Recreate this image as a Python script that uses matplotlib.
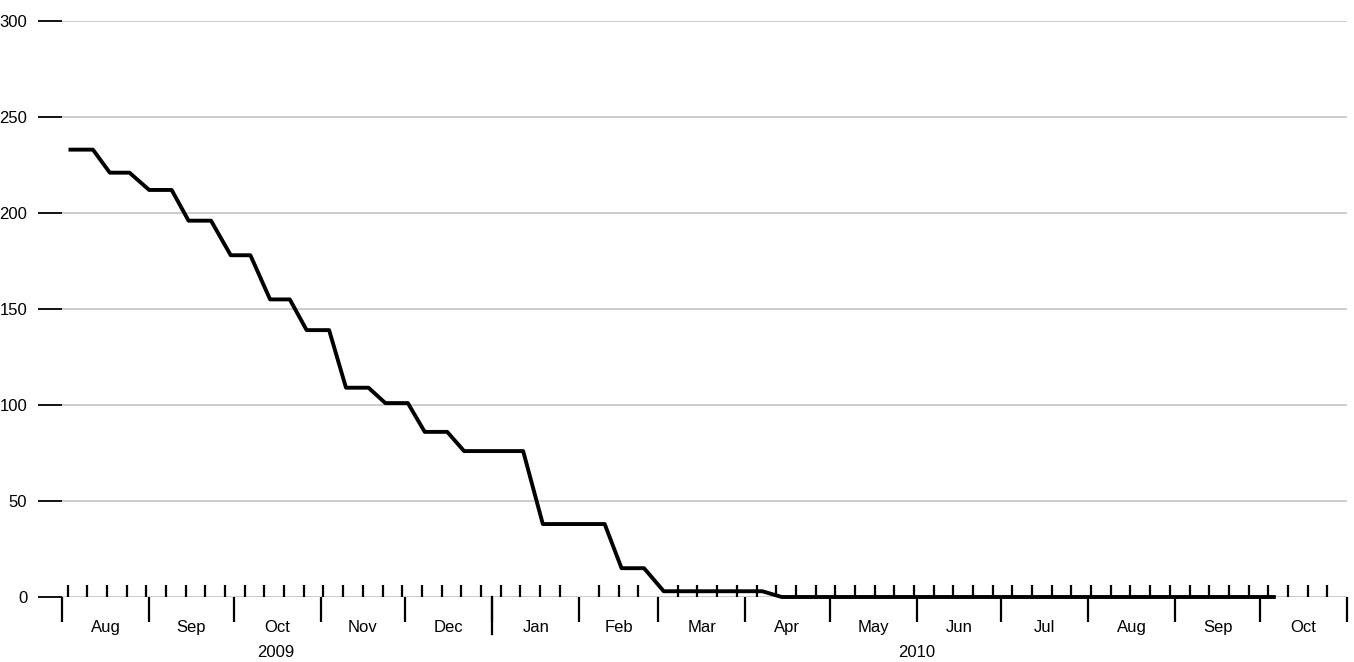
import matplotlib
matplotlib.use("Agg")
import matplotlib.pyplot as plt
import matplotlib.dates as mdates
from datetime import datetime

plt.rcParams["font.family"] = ["Liberation Sans", "DejaVu Sans"]

step_dates = [
    "2009-08-04", "2009-08-12", "2009-08-18", "2009-08-25", "2009-09-01",
    "2009-09-09", "2009-09-15", "2009-09-23", "2009-09-30", "2009-10-07",
    "2009-10-14", "2009-10-21", "2009-10-27", "2009-11-04", "2009-11-10",
    "2009-11-18", "2009-11-24", "2009-12-02", "2009-12-08", "2009-12-16",
    "2009-12-22", "2010-01-12", "2010-01-19", "2010-02-10", "2010-02-16",
    "2010-02-24", "2010-03-03", "2010-04-07", "2010-04-14", "2010-10-06",
]
remaining = [
    233, 233, 221, 221, 212, 212, 196, 196, 178, 178,
    155, 155, 139, 139, 109, 109, 101, 101, 86, 86,
    76, 76, 38, 38, 15, 15, 3, 3, 0, 0,
]

dates = [datetime.strptime(d, "%Y-%m-%d") for d in step_dates]

fig = plt.figure(figsize=(13.54, 6.62), dpi=100)
ax = fig.add_axes([62 / 1354, 1 - 597 / 662, 1285 / 1354, 576 / 662])

for y in range(0, 301, 50):
    ax.axhline(y, color="#c8c8c8", lw=1.3, zorder=1)
ax.plot(dates, remaining, color="black", lw=2.8, zorder=3, clip_on=False)

ax.set_xlim(datetime(2009, 8, 1), datetime(2010, 11, 1))
ax.set_ylim(0, 300)
for s in ax.spines.values():
    s.set_visible(False)

ax.set_yticks(range(0, 301, 50))
ax.tick_params(axis="y", length=17, width=1.3, pad=8, labelsize=12)

# month boundaries as major ticks (below), weekly minor ticks (above)
ax.xaxis.set_major_locator(mdates.MonthLocator())
ax.xaxis.set_major_formatter(plt.NullFormatter())
ax.xaxis.set_minor_locator(mdates.WeekdayLocator(byweekday=mdates.MO))
ax.tick_params(axis="x", which="major", direction="out", length=18, width=1.6)
ax.tick_params(axis="x", which="minor", direction="in", length=9, width=1.6)

# month labels centred in each month
starts = [datetime(2009 + (7 + i) // 12, (7 + i) % 12 + 1, 1) for i in range(15)]
ends = starts[1:] + [datetime(2010, 11, 1)]
xt = ax.get_xaxis_transform()
for s, e in zip(starts, ends):
    mid = mdates.date2num(s) + (mdates.date2num(e) - mdates.date2num(s)) / 2
    ax.text(mid, -0.04, s.strftime("%b"), transform=xt,
            ha="center", va="top", fontsize=12)

# year tick and labels
ax.plot([mdates.date2num(datetime(2010, 1, 1))] * 2, [0, -0.065],
        transform=xt, color="black", lw=1.6, clip_on=False)
ax.text(mdates.date2num(datetime(2009, 10, 16)), -0.083, "2009",
        transform=xt, ha="center", va="top", fontsize=12)
ax.text(mdates.date2num(datetime(2010, 6, 1)), -0.083, "2010",
        transform=xt, ha="center", va="top", fontsize=12)

fig.savefig("out.png", dpi=100)
